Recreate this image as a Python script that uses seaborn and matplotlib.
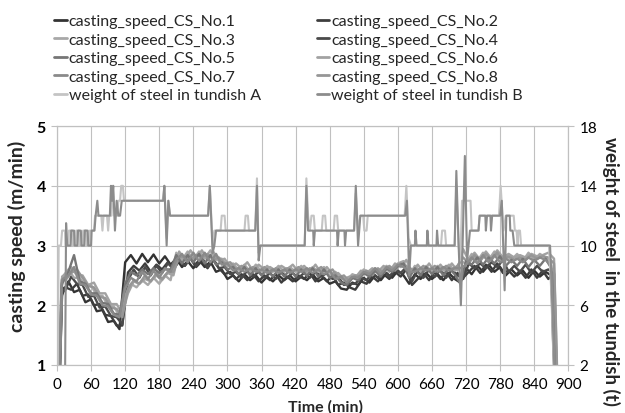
import pandas as pd
import matplotlib
matplotlib.use('Agg')
import matplotlib.pyplot as plt
from matplotlib.lines import Line2D
import seaborn as sns

# ---- data ----
# two sampling grids (min), the logger samples of the strands are interleaved
cs_time_a = [3, 8] + list(range(10, 871, 10)) + [874, 878]
cs_time_b = [4, 9] + list(range(15, 876, 10)) + [878, 881]

cs1 = ([0.4, 2.15]
       + [2.2, 2.4, 2.22, 2.26, 2.05, 2.1, 1.9, 1.92, 1.72, 1.74]
       + [1.6, 2.72, 2.84, 2.7, 2.86, 2.72, 2.85, 2.7, 2.82, 2.68]
       + [2.78, 2.64, 2.74, 2.62, 2.76, 2.64, 2.73, 2.56, 2.6, 2.44]
       + [2.5, 2.4, 2.52, 2.42, 2.5, 2.38, 2.48, 2.4, 2.5, 2.42]
       + [2.5, 2.4, 2.48, 2.42, 2.52, 2.4, 2.46, 2.36, 2.4, 2.28]
       + [2.26, 2.38, 2.34, 2.46, 2.38, 2.5, 2.42, 2.54, 2.46, 2.58]
       + [2.5, 2.36, 2.52, 2.44, 2.54, 2.44, 2.52, 2.42, 2.54, 2.44]
       + [2.38, 2.62, 2.52, 2.66, 2.56, 2.68, 2.56, 2.64, 2.5, 2.6]
       + [2.5, 2.58, 2.46, 2.58, 2.48, 2.56, 2.5]
       + [1.2, 0.4])
cs2 = ([0.5, 2.28]
       + [2.3, 2.26, 2.36, 2.16, 2.18, 2.0, 2.02, 1.84, 1.82, 1.66]
       + [1.66, 2.55, 2.66, 2.58, 2.7, 2.56, 2.68, 2.6, 2.72, 2.6]
       + [2.74, 2.66, 2.78, 2.64, 2.74, 2.62, 2.76, 2.62, 2.52, 2.56]
       + [2.44, 2.52, 2.42, 2.52, 2.4, 2.5, 2.42, 2.52, 2.38, 2.48]
       + [2.4, 2.5, 2.44, 2.54, 2.4, 2.5, 2.4, 2.5, 2.34, 2.38]
       + [2.3, 2.26, 2.4, 2.36, 2.48, 2.4, 2.52, 2.44, 2.56, 2.48]
       + [2.6, 2.34, 2.44, 2.54, 2.42, 2.56, 2.44, 2.56, 2.42, 2.54]
       + [2.46, 2.56, 2.66, 2.54, 2.68, 2.56, 2.7, 2.54, 2.58, 2.48]
       + [2.58, 2.46, 2.6, 2.46, 2.58, 2.44, 2.54]
       + [1.4, 0.5])
cs3 = ([0.6, 2.42]
       + [2.48, 2.6, 2.46, 2.46, 2.32, 2.34, 2.16, 2.16, 1.98, 1.98]
       + [1.82, 2.16, 2.36, 2.3, 2.42, 2.34, 2.46, 2.36, 2.5, 2.42]
       + [2.88, 2.76, 2.9, 2.76, 2.9, 2.78, 2.92, 2.76, 2.78, 2.66]
       + [2.7, 2.58, 2.68, 2.56, 2.68, 2.56, 2.66, 2.56, 2.66, 2.56]
       + [2.64, 2.56, 2.66, 2.54, 2.64, 2.56, 2.64, 2.5, 2.56, 2.46]
       + [2.42, 2.52, 2.48, 2.6, 2.54, 2.62, 2.56, 2.66, 2.6, 2.7]
       + [2.74, 2.5, 2.66, 2.56, 2.66, 2.56, 2.66, 2.58, 2.68, 2.58]
       + [2.74, 2.7, 2.86, 2.74, 2.88, 2.76, 2.9, 2.78, 2.84, 2.76]
       + [2.86, 2.74, 2.88, 2.76, 2.86, 2.8, 2.72]
       + [1.6, 0.6])
cs4 = ([0.5, 2.22]
       + [2.26, 2.48, 2.36, 2.34, 2.14, 2.16, 1.96, 1.98, 1.82, 1.8]
       + [1.68, 2.42, 2.6, 2.46, 2.64, 2.5, 2.66, 2.54, 2.7, 2.62]
       + [2.76, 2.66, 2.82, 2.66, 2.8, 2.64, 2.78, 2.62, 2.64, 2.52]
       + [2.56, 2.46, 2.58, 2.48, 2.56, 2.46, 2.54, 2.44, 2.56, 2.46]
       + [2.54, 2.46, 2.54, 2.46, 2.56, 2.48, 2.54, 2.44, 2.48, 2.34]
       + [2.36, 2.36, 2.46, 2.42, 2.54, 2.46, 2.58, 2.48, 2.6, 2.54]
       + [2.64, 2.4, 2.58, 2.46, 2.6, 2.48, 2.6, 2.46, 2.6, 2.5]
       + [2.44, 2.7, 2.62, 2.7, 2.62, 2.72, 2.64, 2.76, 2.56, 2.66]
       + [2.56, 2.68, 2.54, 2.66, 2.56, 2.6, 2.52]
       + [1.3, 0.5])
cs5 = ([0.5, 2.32]
       + [2.38, 2.56, 2.84, 2.4, 2.36, 2.2, 2.2, 2.04, 2.02, 1.86]
       + [1.84, 2.36, 2.56, 2.5, 2.6, 2.52, 2.62, 2.54, 2.6, 2.6]
       + [2.84, 2.7, 2.84, 2.72, 2.86, 2.7, 2.84, 2.68, 2.72, 2.6]
       + [2.64, 2.52, 2.64, 2.5, 2.62, 2.5, 2.6, 2.48, 2.6, 2.48]
       + [2.6, 2.48, 2.6, 2.49, 2.62, 2.48, 2.6, 2.46, 2.5, 2.38]
       + [2.34, 2.46, 2.42, 2.54, 2.48, 2.58, 2.48, 2.62, 2.56, 2.66]
       + [2.7, 2.46, 2.62, 2.5, 2.64, 2.52, 2.64, 2.5, 2.62, 2.52]
       + [2.36, 2.74, 2.68, 2.8, 2.68, 2.8, 2.7, 2.82, 2.66, 2.76]
       + [2.66, 2.78, 2.64, 2.76, 2.66, 2.78, 2.62]
       + [1.5, 0.5])
cs6 = ([0.7, 2.48]
       + [2.52, 2.64, 2.5, 2.5, 2.34, 2.38, 2.2, 2.2, 2.02, 2.02]
       + [1.86, 2.2, 2.4, 2.36, 2.44, 2.4, 2.5, 2.42, 2.54, 2.5]
       + [2.9, 2.76, 2.92, 2.78, 2.92, 2.76, 2.9, 2.74, 2.78, 2.64]
       + [2.7, 2.62, 2.72, 2.58, 2.68, 2.6, 2.64, 2.58, 2.66, 2.6]
       + [2.68, 2.56, 2.66, 2.56, 2.68, 2.54, 2.64, 2.52, 2.54, 2.44]
       + [2.48, 2.46, 2.58, 2.54, 2.62, 2.56, 2.66, 2.56, 2.7, 2.64]
       + [2.76, 2.54, 2.68, 2.56, 2.7, 2.56, 2.68, 2.56, 2.7, 2.58]
       + [2.94, 2.74, 2.88, 2.76, 2.9, 2.78, 2.92, 2.8, 2.86, 2.8]
       + [2.84, 2.8, 2.86, 2.82, 2.84, 2.88, 2.78]
       + [1.8, 0.7])
cs7 = ([0.6, 2.36]
       + [2.44, 2.5, 2.64, 2.36, 2.34, 2.18, 2.16, 2.0, 1.98, 1.84]
       + [1.8, 2.28, 2.46, 2.4, 2.56, 2.44, 2.58, 2.46, 2.62, 2.56]
       + [2.76, 2.86, 2.72, 2.88, 2.74, 2.88, 2.72, 2.86, 2.68, 2.7]
       + [2.58, 2.62, 2.56, 2.62, 2.56, 2.6, 2.54, 2.6, 2.54, 2.6]
       + [2.54, 2.6, 2.56, 2.62, 2.54, 2.6, 2.52, 2.58, 2.44, 2.48]
       + [2.38, 2.48, 2.46, 2.56, 2.52, 2.62, 2.52, 2.64, 2.58, 2.68]
       + [2.64, 2.56, 2.56, 2.62, 2.58, 2.62, 2.56, 2.64, 2.58, 2.62]
       + [2.62, 2.68, 2.8, 2.7, 2.84, 2.72, 2.84, 2.72, 2.78, 2.72]
       + [2.78, 2.72, 2.8, 2.74, 2.8, 2.76, 2.66]
       + [1.6, 0.6])
cs8 = ([0.6, 2.42]
       + [2.42, 2.54, 2.6, 2.46, 2.32, 2.3, 2.14, 2.12, 1.96, 1.94]
       + [1.8, 2.28, 2.42, 2.36, 2.5, 2.4, 2.54, 2.44, 2.56, 2.56]
       + [2.8, 2.82, 2.76, 2.84, 2.8, 2.86, 2.76, 2.8, 2.7, 2.72]
       + [2.6, 2.66, 2.58, 2.64, 2.56, 2.64, 2.54, 2.62, 2.56, 2.62]
       + [2.56, 2.64, 2.54, 2.62, 2.58, 2.64, 2.54, 2.6, 2.46, 2.5]
       + [2.4, 2.5, 2.48, 2.58, 2.5, 2.62, 2.54, 2.66, 2.58, 2.7]
       + [2.66, 2.6, 2.58, 2.66, 2.58, 2.66, 2.58, 2.66, 2.6, 2.66]
       + [2.8, 2.7, 2.84, 2.74, 2.86, 2.76, 2.88, 2.74, 2.82, 2.76]
       + [2.8, 2.76, 2.84, 2.78, 2.82, 2.8, 2.7]
       + [1.7, 0.6])

cs_names = ['casting_speed_CS_No.1', 'casting_speed_CS_No.2', 'casting_speed_CS_No.3',
            'casting_speed_CS_No.4', 'casting_speed_CS_No.5', 'casting_speed_CS_No.6',
            'casting_speed_CS_No.7', 'casting_speed_CS_No.8']
cs_values = [cs1, cs2, cs3, cs4, cs5, cs6, cs7, cs8]
cs_times = [cs_time_a, cs_time_b, cs_time_a, cs_time_b, cs_time_a, cs_time_b, cs_time_a, cs_time_b]

# weight of steel in tundish (t), (time, weight) breakpoints
weight_a = [(1, 0), (3, 10), (7, 10), (9, 11), (14, 11), (15, 10), (20, 10), (21, 11), (27, 11),
            (28, 10), (33, 10), (34, 11), (39, 11), (40, 10), (45, 10), (46, 11), (51, 11), (52, 10),
            (57, 10), (58, 11), (65, 11), (67, 12), (78, 12), (80, 11), (82, 12), (88, 12), (90, 11),
            (92, 12), (96, 12), (98, 14), (101, 12), (106, 12), (108, 13), (111, 13), (113, 14),
            (116, 14), (118, 13), (186, 13), (189, 14), (193, 10.5), (196, 13), (199, 12), (266, 12),
            (269, 14), (274, 10), (277, 11), (288, 11), (290, 12), (295, 12), (297, 11), (330, 11),
            (332, 12), (336, 12), (338, 11), (349, 11), (352, 14.5), (355, 9.5), (358, 10), (436, 10),
            (439, 14.5), (442, 12), (445, 11), (448, 12), (452, 12), (454, 11), (466, 11), (468, 12),
            (472, 12), (474, 11), (487, 11), (489, 12), (493, 12), (495, 11), (523, 11), (526, 13.5),
            (530, 11), (534, 12), (539, 12), (541, 11), (545, 11), (547, 12), (612, 12), (615, 14),
            (619, 10.5), (623, 10), (676, 10), (678, 11), (683, 11), (685, 10), (700, 10), (703, 14),
            (707, 10), (710, 9), (713, 13), (728, 13), (730, 11), (742, 11), (744, 12), (778, 12),
            (781, 14), (786, 11), (790, 12), (804, 12), (806, 11), (809, 11), (811, 10), (812, 11),
            (815, 11), (817, 10), (866, 10), (870, 7), (876, 0)]
weight_b = [(14, 0), (16, 11.5), (18, 10), (24, 10), (25, 11), (30, 11), (31, 10), (36, 10), (37, 11),
            (42, 11), (43, 10), (48, 10), (49, 11), (54, 11), (55, 10), (60, 10), (61, 11), (66, 11),
            (68, 12), (71, 13), (73, 12), (93, 12), (95, 14), (97, 13), (99, 14), (102, 11), (105, 13),
            (108, 12), (111, 12), (114, 13), (187, 13), (189, 14), (193, 10), (196, 13), (199, 12),
            (266, 12), (269, 14), (274, 9.5), (277, 10), (280, 11), (349, 11), (352, 14), (355, 9),
            (358, 10), (436, 10), (439, 14), (442, 11), (451, 11), (452, 10), (454, 11), (493, 11),
            (494, 10), (496, 11), (506, 11), (507, 10), (509, 11), (523, 11), (526, 14), (530, 10),
            (534, 12), (613, 12), (616, 13), (620, 8), (623, 10), (630, 10), (631, 11), (633, 10),
            (651, 10), (652, 11), (654, 10), (668, 10), (669, 11), (671, 10), (700, 10), (703, 15),
            (707, 10), (711, 6), (714, 10), (718, 16), (722, 9), (727, 11), (742, 11), (744, 12),
            (754, 12), (755, 11), (757, 12), (763, 12), (764, 11), (766, 12), (780, 12), (783, 13),
            (788, 7), (791, 12), (797, 12), (798, 11), (802, 11), (805, 10), (868, 10), (872, 6),
            (877, 0)]
w_names = ['weight of steel in tundish A', 'weight of steel in tundish B']

x_ticks = list(range(0, 901, 60))
left_ticks = [1, 2, 3, 4, 5]
right_ticks = [2, 6, 10, 14, 18]

# ---- styling ----
cs_colors = ['#333333', '#3d3d3d', '#a8a8a8', '#4a4a4a', '#767676', '#a2a2a2', '#8a8a8a', '#969696']
w_colors = ['#c4c4c4', '#8c8c8c']
grid_c = '#c0c0c0'
# dark strands underneath, mid greys on top (as in the original)
draw_order = [0, 1, 3, 2, 5, 7, 4, 6]

sns.set_theme(style="white")
plt.rcParams['font.family'] = ['Lato', 'DejaVu Sans']

rows = []
for name, times, vals in zip(cs_names, cs_times, cs_values):
    for t, v in zip(times, vals):
        rows.append((name, t, v))
cs_df = pd.DataFrame(rows, columns=['series', 'time', 'speed'])

rows = []
for name, pts in zip(w_names, [weight_a, weight_b]):
    for t, w in pts:
        rows.append((name, t, w))
w_df = pd.DataFrame(rows, columns=['series', 'time', 'weight'])

fig = plt.figure(figsize=(6.25, 4.14), dpi=100)
ax = fig.add_axes([0.0912, 0.116, 0.818, 0.577])

sns.lineplot(data=cs_df, x='time', y='speed', hue='series',
             hue_order=[cs_names[i] for i in draw_order],
             palette=dict(zip(cs_names, cs_colors)), estimator=None, sort=False,
             linewidth=1.7, legend=False, ax=ax)
ax.set_xlim(0, 900)
ax.set_ylim(1, 5)
ax.set_xticks(x_ticks)
ax.set_yticks(left_ticks)
ax.grid(True, color=grid_c, linewidth=0.8)
ax.set_axisbelow(True)
ax.set_xlabel('')
ax.set_ylabel('')

ax2 = ax.twinx()
sns.lineplot(data=w_df, x='time', y='weight', hue='series', hue_order=w_names,
             palette=dict(zip(w_names, w_colors)), estimator=None, sort=False,
             linewidth=1.5, legend=False, ax=ax2)
ax2.set_ylim(2, 18)
ax2.set_yticks(right_ticks)
ax2.grid(False)
ax2.set_ylabel('')

for a in (ax, ax2):
    for s in a.spines.values():
        s.set_color(grid_c)
        s.set_linewidth(0.8)
    a.tick_params(length=4, width=0.8, color=grid_c, colors='black')
ax.tick_params(axis='x', labelsize=11, pad=5, bottom=True)
ax.tick_params(axis='y', labelsize=11.5, pad=4, left=True)
ax2.tick_params(axis='y', labelsize=11, pad=4, right=True)
for lab in ax.get_yticklabels():
    lab.set_fontweight('bold')

fig.text(0.027, 0.43, 'casting speed (m/min)', rotation=90, ha='center', va='center',
         fontsize=14, fontweight='bold')
fig.text(0.978, 0.345, 'weight of steel  in the tundish (t)', rotation=-90, ha='center',
         va='center', fontsize=13.5, fontweight='bold')
fig.text(0.52, 0.017, 'Time (min)', ha='center', va='center', fontsize=11.5, fontweight='bold')

all_names = cs_names + w_names
all_colors = cs_colors + w_colors
order = [0, 2, 4, 6, 8, 1, 3, 5, 7, 9]
handles = [Line2D([], [], color=all_colors[i], linewidth=2) for i in order]
labels = [all_names[i] for i in order]
fig.legend(handles, labels, ncol=2, loc='upper left', bbox_to_anchor=(0.086, 0.963),
           frameon=False, fontsize=11.5, handlelength=0.8, handletextpad=0.13,
           labelspacing=0.27, columnspacing=3.5, borderpad=0, borderaxespad=0)

fig.savefig('out.png', dpi=100)
